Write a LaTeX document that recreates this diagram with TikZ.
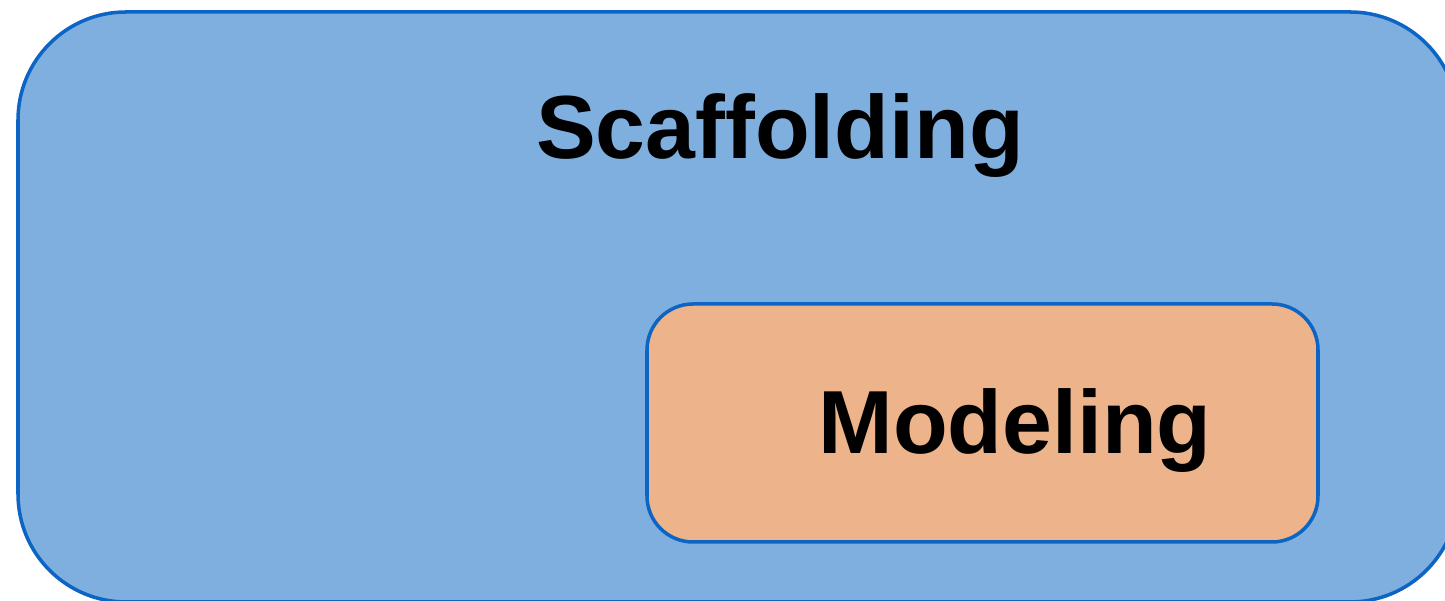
\documentclass[tikz,border=0pt]{standalone}
\usepackage{fontspec}
\setmainfont{Liberation Sans}
\usepackage{tikz}

\definecolor{scafblue}{RGB}{127,175,223}
\definecolor{edgeblue}{RGB}{12,100,196}
\definecolor{modorange}{RGB}{237,179,138}

\begin{document}
\begin{tikzpicture}[
		box/.style={draw=edgeblue, line width=1pt},
		label/.style={anchor=base, font=\fontsize{25.5}{30}\selectfont\bfseries}
	]
		\useasboundingbox (0,0) rectangle (14.45,6.01);
		\clip (0,0) rectangle (14.45,6.01);
		% outer layer
		\draw[box, fill=scafblue, rounded corners=1.08cm] (0.18,-0.01) rectangle (14.58,5.89);
		\node[label] (scaffolding) at (7.80,4.42) {Scaffolding};
		% inner layer
		\draw[box, fill=modorange, rounded corners=0.46cm] (6.47,0.59) rectangle (13.18,2.97);
		\node[label] (modeling) at (10.15,1.47) {Modeling};
		\end{tikzpicture}
\end{document}
